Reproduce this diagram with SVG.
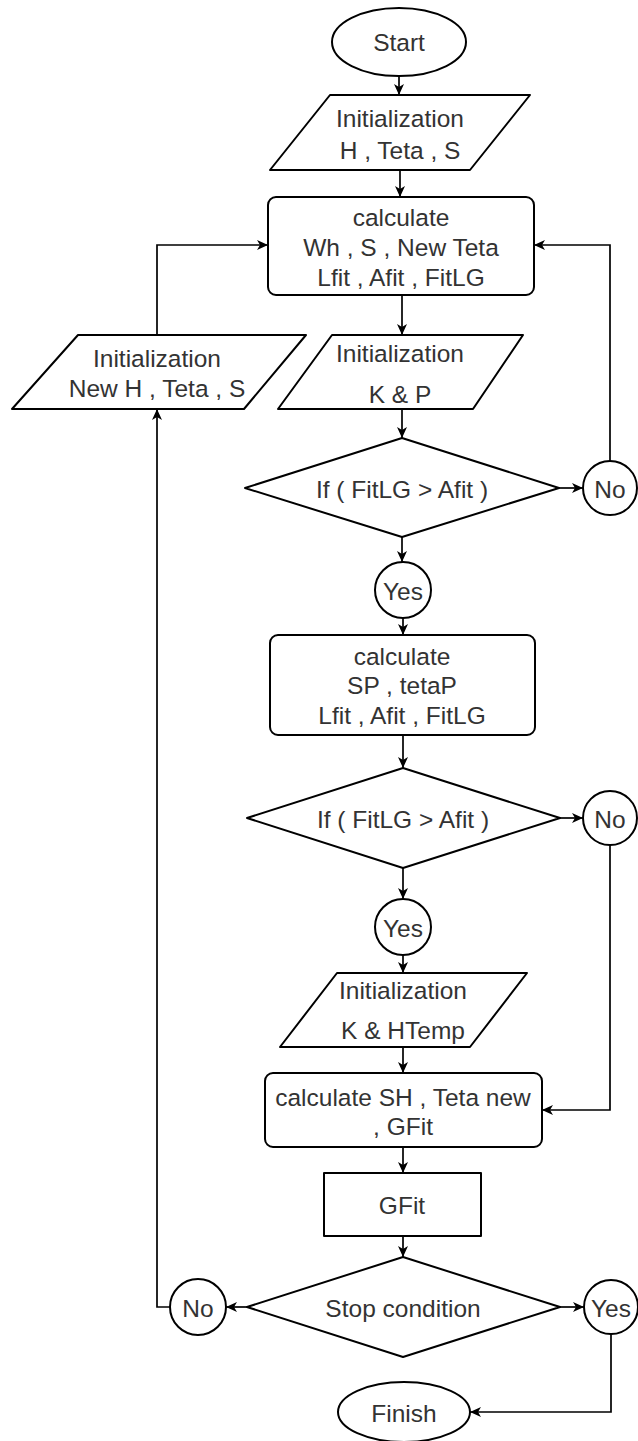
<svg xmlns="http://www.w3.org/2000/svg" width="638" height="1441" viewBox="0 0 638 1441">
<defs>
<marker id="arr" markerWidth="12" markerHeight="10" refX="11" refY="5" orient="auto" markerUnits="userSpaceOnUse">
<path d="M0,0 L11,5 L0,10 L3,5 Z" fill="#000"/>
</marker>
<style>
.s{fill:#fff;stroke:#000;stroke-width:2;stroke-linejoin:round}
.t{font-family:"Liberation Sans",Arial,sans-serif;font-size:24.5px;fill:#333;text-anchor:middle;dominant-baseline:central}
.c{fill:none;stroke:#000;stroke-width:1.7;marker-end:url(#arr)}
.l{fill:none;stroke:#000;stroke-width:2}
</style>
</defs>
<rect width="638" height="1441" fill="#fff"/>
<g id="connectors">
<path class="c" d="M399,76 L399,95"/>
<path class="c" d="M400,170 L400,197"/>
<path class="c" d="M402,295 L402,335"/>
<path class="c" d="M402,409 L402,438"/>
<path class="c" d="M402,537 L402,562"/>
<path class="c" d="M403,618 L403,635"/>
<path class="c" d="M403,735 L403,768"/>
<path class="c" d="M403,868 L403,899"/>
<path class="c" d="M403,955 L403,973"/>
<path class="c" d="M403,1047 L403,1073"/>
<path class="c" d="M403,1147 L403,1173"/>
<path class="c" d="M403,1236 L403,1257"/>
<path class="c" d="M559,488 L583,488"/>
<path class="c" d="M610,461 L610,245 L534,245"/>
<path class="c" d="M560,818 L583,818"/>
<path class="c" d="M610,845 L610,1110 L542,1110"/>
<path class="c" d="M247,1307 L226,1307"/>
<path class="c" d="M170,1307 L157,1307 L157,409"/>
<path class="c" d="M157,335 L157,245 L268,245"/>
<path class="c" d="M560,1307 L584,1307"/>
<path class="c" d="M611,1334 L611,1412 L470,1412"/>
</g>
<g id="start">
<ellipse class="s" cx="399" cy="42" rx="67" ry="34"/>
<text class="t" x="399" y="42">Start</text>
</g>
<g id="init1">
<polygon class="s" points="330,95 530,95 470,170 270,170"/>
<text class="t" x="400" y="118">Initialization</text>
<text class="t" x="400" y="150">H , Teta , S</text>
</g>
<g id="calc1">
<rect class="s" x="268" y="197" width="266" height="98" rx="8"/>
<text class="t" x="401" y="217">calculate</text>
<text class="t" x="401" y="247">Wh , S , New Teta</text>
<text class="t" x="401" y="277">Lfit , Afit , FitLG</text>
</g>
<g id="initNew">
<polygon class="s" points="78,335 306,335 244,409 12,409"/>
<text class="t" x="157" y="358">Initialization</text>
<text class="t" x="157" y="388">New H , Teta , S</text>
</g>
<g id="initKP">
<polygon class="s" points="332,335 523,335 473,409 278,409"/>
<text class="t" x="400" y="353">Initialization</text>
<text class="t" x="400" y="394">K &amp; P</text>
</g>
<g id="dec1">
<polygon class="s" points="402,438 559,488 402,537 245,488"/>
<text class="t" x="402" y="489">If ( FitLG &gt; Afit )</text>
</g>
<g id="no1">
<circle class="s" cx="610" cy="488" r="27"/>
<text class="t" x="610" y="489">No</text>
</g>
<g id="yes1">
<circle class="s" cx="403" cy="590" r="28"/>
<text class="t" x="403" y="591">Yes</text>
</g>
<g id="calc2">
<rect class="s" x="270" y="635" width="265" height="100" rx="8"/>
<text class="t" x="402" y="656">calculate</text>
<text class="t" x="402" y="685">SP , tetaP</text>
<text class="t" x="402" y="715">Lfit , Afit , FitLG</text>
</g>
<g id="dec2">
<polygon class="s" points="403,768 560,818 403,868 247,818"/>
<text class="t" x="403" y="819">If ( FitLG &gt; Afit )</text>
</g>
<g id="no2">
<circle class="s" cx="610" cy="818" r="27"/>
<text class="t" x="610" y="819">No</text>
</g>
<g id="yes2">
<circle class="s" cx="403" cy="927" r="28"/>
<text class="t" x="403" y="928">Yes</text>
</g>
<g id="initKH">
<polygon class="s" points="337,973 527,973 470,1047 280,1047"/>
<text class="t" x="403" y="990">Initialization</text>
<text class="t" x="403" y="1030">K &amp; HTemp</text>
</g>
<g id="calc3">
<rect class="s" x="265" y="1073" width="277" height="74" rx="8"/>
<text class="t" x="403" y="1097">calculate SH , Teta new</text>
<text class="t" x="403" y="1126">, GFit</text>
</g>
<g id="gfit">
<rect class="s" x="324" y="1173" width="157" height="63"/>
<text class="t" x="402" y="1205">GFit</text>
</g>
<g id="dec3">
<polygon class="s" points="403,1257 560,1307 403,1357 247,1307"/>
<text class="t" x="403" y="1308">Stop condition</text>
</g>
<g id="no3">
<circle class="s" cx="198" cy="1307" r="28"/>
<text class="t" x="198" y="1308">No</text>
</g>
<g id="yes3">
<circle class="s" cx="611" cy="1307" r="27"/>
<text class="t" x="611" y="1308">Yes</text>
</g>
<g id="finish">
<ellipse class="s" cx="404" cy="1412" rx="66" ry="30"/>
<text class="t" x="404" y="1413">Finish</text>
</g>
</svg>
